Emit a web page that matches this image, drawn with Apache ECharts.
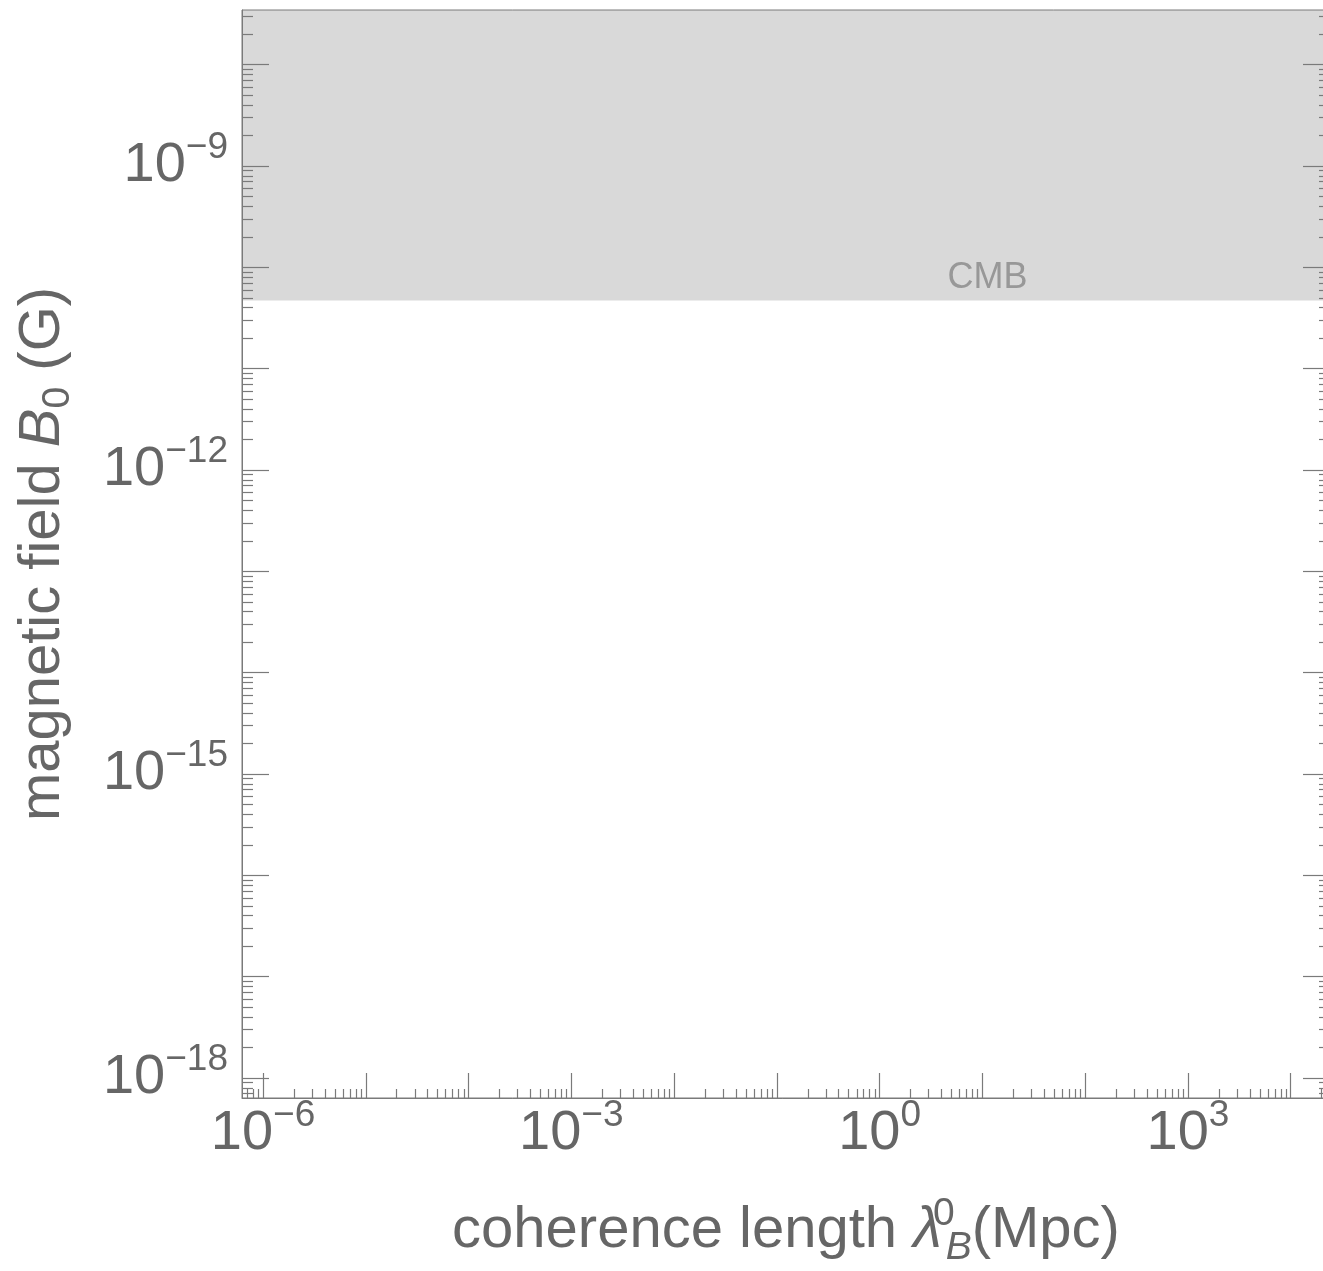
<!DOCTYPE html>
<html>
<head>
<meta charset="utf-8">
<script src="https://cdn.jsdelivr.net/npm/echarts@6/dist/echarts.min.js"></script>
<style>
html, body { margin: 0; padding: 0; background: #fff; }
#chart_container { width: 1323px; height: 1271px; }
</style>
</head>
<body>
<div id="chart_container"></div>
<script>
// axis ranges (the plot is cropped on the right)
const xRange = [6.25e-7, 2.41e4];
const yRange = [6.35e-19, 3.46e-8];
const xLabelValues = [1e-6, 1e-3, 1e0, 1e3];
const yLabelValues = [1e-18, 1e-15, 1e-12, 1e-9];
// CMB upper bound on the field, shaded above
const cmbBound = [4.7e-11, 3.46e-8];
const cmbLabel = ['CMB', 11.2, 7.8e-11];

const textColor = '#666666';
const lineColor = '#7a7a7a';
const font = 'Liberation Sans';

function decadeTicks(range) {
    const out = [];
    const lo = Math.floor(Math.log10(range[0])), hi = Math.ceil(Math.log10(range[1]));
    for (let k = lo; k <= hi; k++) {
        const v = Number('1e' + k);
        if (v >= range[0] && v <= range[1]) out.push(v);
    }
    return out;
}

function minorTicks(range) {
    const out = [];
    const lo = Math.floor(Math.log10(range[0])), hi = Math.ceil(Math.log10(range[1]));
    for (let k = lo; k <= hi; k++) {
        for (let m = 2; m <= 9; m++) {
            const v = Number(m + 'e' + k);
            if (v >= range[0] && v <= range[1]) out.push(v);
        }
    }
    return out;
}

function powerLabel(value) {
    const e = Math.round(Math.log10(value));
    return '{b|10}{s|' + String(e).replace('-', '\u2212') + '}';
}

const labelRich = {
    b: {fontSize: 56, lineHeight: 56, fontFamily: font, color: textColor},
    s: {fontSize: 37, lineHeight: 37, fontFamily: font, color: textColor, padding: [0, 0, 36, 0]}
};

function axisBase(range, pos) {
    return {
        type: 'log',
        logBase: 10,
        position: pos,
        min: range[0],
        max: range[1],
        z: 10,
        splitLine: {show: false},
        minorTick: {show: false},
        axisLine: {show: true, lineStyle: {color: lineColor, width: 1}},
        axisLabel: {show: false},
        axisTick: {show: false}
    };
}

function majorAxis(range, pos, len, labels, margin) {
    const ax = axisBase(range, pos);
    ax.axisTick = {show: true, inside: true, length: len, customValues: decadeTicks(range),
        lineStyle: {color: lineColor, width: 1.2}};
    if (labels) {
        ax.axisLabel = {show: true, customValues: labels, formatter: powerLabel, margin: margin,
            color: textColor, fontFamily: font, fontSize: 56, rich: labelRich};
    }
    return ax;
}

function minorAxis(range, pos, len) {
    const ax = axisBase(range, pos);
    ax.axisLine = {show: false};
    ax.axisTick = {show: true, inside: true, length: len, customValues: minorTicks(range),
        lineStyle: {color: lineColor, width: 1.2}};
    return ax;
}

const titleRich = {
    t: {fontSize: 58, lineHeight: 58, fontFamily: font, color: textColor},
    i: {fontSize: 58, lineHeight: 58, fontFamily: font, color: textColor, fontStyle: 'italic'},
    sup: {fontSize: 39, lineHeight: 39, fontFamily: font, color: textColor, padding: [0, 0, 34, 0], width: 4},
    sub: {fontSize: 39, lineHeight: 39, fontFamily: font, color: textColor, fontStyle: 'italic', padding: [34, 0, 0, 0]},
    sub0: {fontSize: 39, lineHeight: 39, fontFamily: font, color: textColor, padding: [30, 0, 0, 0]}
};

const xMain = majorAxis(xRange, 'bottom', 25, xLabelValues, 8);
xMain.name = '{t|coherence length }{i|\u03bb}{sup|0}{sub|B}{t|(Mpc)}';
xMain.nameLocation = 'middle';
xMain.nameGap = 104;
xMain.nameTextStyle = {color: textColor, fontFamily: font, fontSize: 58, rich: titleRich};

const yMain = majorAxis(yRange, 'left', 27, yLabelValues, 14);
yMain.name = '{t|magnetic field }{i|B}{sub0|0}{t| (G)}';
yMain.nameLocation = 'middle';
yMain.nameGap = 170;
yMain.nameTextStyle = {color: textColor, fontFamily: font, fontSize: 58, rich: titleRich};

const chart = echarts.init(document.getElementById('chart_container'), null, {renderer: 'canvas'});

chart.setOption({
    animation: false,
    backgroundColor: '#ffffff',
    grid: {
        left: 242, top: 10, width: 1088, height: 1088,
        outerBoundsMode: 'none',
        containLabel: false,
        show: true, z: 10, borderColor: lineColor, borderWidth: 1, backgroundColor: 'transparent'
    },
    xAxis: [
        xMain,
        minorAxis(xRange, 'bottom', 9)
    ],
    yAxis: [
        yMain,
        minorAxis(yRange, 'left', 11),
        majorAxis(yRange, 'right', 27, null, 0),
        minorAxis(yRange, 'right', 11)
    ],
    series: [{
        type: 'scatter',
        xAxisIndex: 0,
        yAxisIndex: 0,
        symbolSize: 0,
        data: [[cmbLabel[1], cmbLabel[2]]],
        label: {
            show: true, position: 'inside', formatter: cmbLabel[0],
            fontFamily: font, fontSize: 36, color: '#878787'
        },
        markArea: {
            silent: true,
            itemStyle: {color: '#d9d9d9'},
            data: [[{yAxis: cmbBound[0]}, {yAxis: cmbBound[1]}]]
        }
    }]
});
</script>
</body>
</html>
